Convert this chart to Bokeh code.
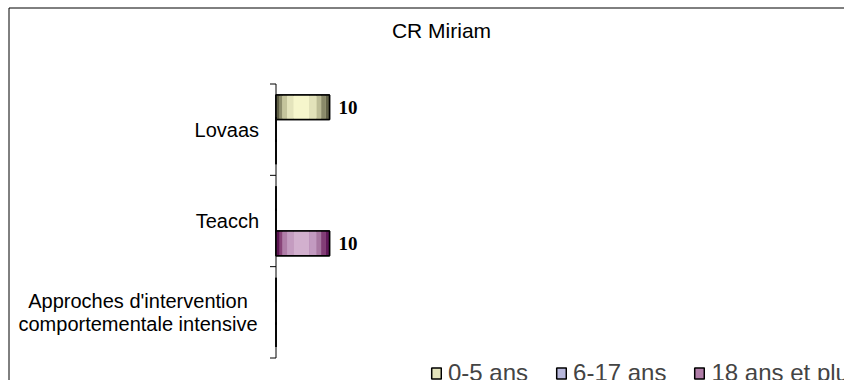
from bokeh.plotting import figure
from bokeh.models import Range1d, Legend, LegendItem, ColumnDataSource
from bokeh.core.properties import value
from bokeh.embed import file_html
from bokeh.resources import INLINE

# ---- data ----
title_text = "CR Miriam"
categories = ["Lovaas", "Teacch", "Approches d'intervention\ncomportementale intensive"]
series = ["0-5 ans", "6-17 ans", "18 ans et plus"]
values_0_5 = [10, 0, 0]
values_6_17 = [0, 0, 0]
values_18_plus = [0, 10, 0]

series_values = [values_0_5, values_6_17, values_18_plus]

# ---- styles ----
stripe_widths = [4, 3, 5, 7, 17, 8, 5, 5, 4]
stripe_colors = [
    ["#5e5e44", "#8c8c6c", "#c4c49c", "#e4e4bc", "#f6f6cc", "#e2e2ba", "#bcbc96", "#8a8a6a", "#626248"],
    ["#44447a", "#6a6aa0", "#9c9cc8", "#b8b8dc", "#ccccec", "#b6b6da", "#9898c4", "#6c6ca2", "#48487e"],
    ["#5c1452", "#884478", "#b07ea8", "#c49cc0", "#d2b0ce", "#c29ac0", "#a878a2", "#823e76", "#62185a"],
]
legend_colors = ["#e4e4bc", "#b8b8dc", "#b07ea8"]
bar_offsets = [0.245, 0.0, -0.245]
bar_height = 0.27
FONT = "Liberation Sans"

# ---- layout (pixels in the canvas) ----
W, H = 844, 380
axis_px = 275.5        # x pixel of the category axis
top_px, bottom_px = 83.5, 357.5
px_per_unit = 5.35     # value axis scale
n = len(categories)
px_per_cat = (bottom_px - top_px) / n

x_start = -axis_px / px_per_unit
x_end = (W - axis_px) / px_per_unit
y_start = -(H - bottom_px) / px_per_cat
y_end = n + top_px / px_per_cat


def X(px):
    return x_start + px / px_per_unit


def Y(py):
    return y_end - py / px_per_cat


p = figure(width=W, height=H, output_backend="svg", toolbar_location=None,
           x_range=Range1d(x_start, x_end), y_range=Range1d(y_start, y_end),
           min_border=0)
p.axis.visible = False
p.grid.visible = False
p.outline_line_color = None

# outer chart-area border (left and top; right/bottom run off the page)
p.segment(x0=[X(8.5), X(8.5)], y0=[Y(7.5), Y(7.5)], x1=[X(8.5), X(W + 10)], y1=[Y(H + 10), Y(7.5)],
          line_color="black", line_width=1)

# category axis line and ticks at category boundaries
tick_len = 6 / px_per_unit
p.segment(x0=[0], y0=[0], x1=[0], y1=[n], line_color="black", line_width=1)
p.segment(x0=[0] * (n + 1), y0=list(range(n + 1)), x1=[-tick_len] * (n + 1),
          y1=list(range(n + 1)), line_color="black", line_width=1)

total = float(sum(stripe_widths))
legend_renderers = []
for s, vals in enumerate(series_values):
    ys = [n - 0.5 - i + bar_offsets[s] for i in range(n)]
    src = ColumnDataSource(dict(y=ys, right=vals))
    r = p.hbar(y="y", left=0, right="right", height=bar_height, source=src,
               fill_color=legend_colors[s], line_color="black", line_width=1.5)
    legend_renderers.append(r)
    cum = 0.0
    for k, w in enumerate(stripe_widths):
        f0, f1 = cum / total, (cum + w) / total
        cum += w
        p.hbar(y=ys, left=[v * f0 for v in vals], right=[v * f1 for v in vals],
               height=bar_height, fill_color=stripe_colors[s][k], line_color=None)
    p.hbar(y=ys, left=0, right=vals, height=bar_height, fill_alpha=0,
           line_color="black", line_width=1.5)
    lx = [v for v in vals if v != 0]
    ly = [y for y, v in zip(ys, vals) if v != 0]
    if lx:
        p.text(x=lx, y=ly, text=[str(v) for v in lx], x_offset=9,
               text_baseline="middle", text_align="left",
               text_font=value("Liberation Serif"), text_font_style="bold",
               text_font_size="19px", text_color="black")

# category labels
for i, cat in enumerate(categories):
    multi = "\n" in cat
    p.text(x=[0], y=[n - 0.5 - i], text=[cat],
           x_offset=-138 if multi else -17,
           text_align="center" if multi else "right",
           text_baseline="middle", text_line_height=1.05,
           text_font=value(FONT), text_font_size="20px", text_color="black")

# title
p.text(x=[X(441)], y=[Y(30)], text=[title_text], text_align="center",
       text_baseline="middle", text_font=value(FONT), text_font_size="21px",
       text_color="black")

legend = Legend(items=[LegendItem(label=series[s], renderers=[legend_renderers[s]]) for s in range(len(series))],
                orientation="horizontal", location=(430, -7),
                glyph_width=12, glyph_height=14, label_standoff=6, spacing=27,
                padding=0, margin=0, border_line_color=None, background_fill_alpha=0,
                label_text_font=FONT, label_text_font_size="24px")
p.add_layout(legend)

open("out.html", "w").write(file_html(p, INLINE))
